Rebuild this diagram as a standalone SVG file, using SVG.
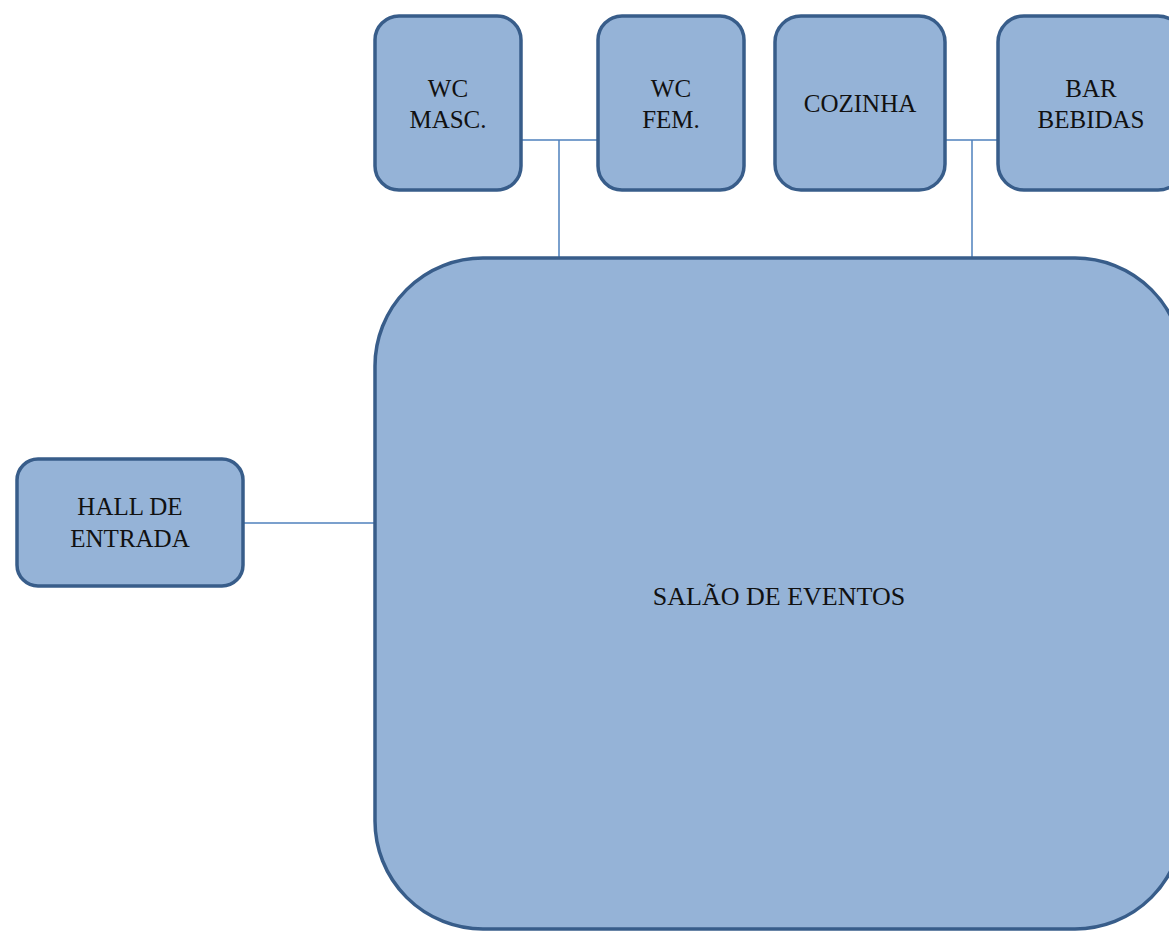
<svg xmlns="http://www.w3.org/2000/svg" width="1169" height="931" viewBox="0 0 1169 931">
<style>
.box{fill:#95B3D7;stroke:#385D8A;stroke-width:3.5}
.lbl{font-family:"Liberation Serif","Times New Roman",serif;font-size:25px;fill:#111;text-anchor:middle}
.con{fill:none;stroke:#4F81BD;stroke-width:1.5}
</style>
<rect width="1169" height="931" fill="#fff"/>
<g id="connectors">
<path class="con" d="M521,140 H598 M559,140 V258"/>
<path class="con" d="M945,140 H998 M972,140 V258"/>
<path class="con" d="M243,523 H375"/>
</g>
<g id="salao">
<rect class="box" x="375" y="258" width="808" height="671" rx="108"/>
<text class="lbl" x="779" y="605" style="font-size:26px">SALÃO DE EVENTOS</text>
</g>
<g id="wc-masc">
<rect class="box" x="375" y="16" width="146" height="174" rx="24"/>
<text class="lbl" x="448" y="97">WC</text>
<text class="lbl" x="448" y="128">MASC.</text>
</g>
<g id="wc-fem">
<rect class="box" x="598" y="16" width="146" height="174" rx="24"/>
<text class="lbl" x="671" y="97">WC</text>
<text class="lbl" x="671" y="128">FEM.</text>
</g>
<g id="cozinha">
<rect class="box" x="775" y="16" width="170" height="174" rx="26"/>
<text class="lbl" x="860" y="112">COZINHA</text>
</g>
<g id="bar">
<rect class="box" x="998" y="16" width="186" height="174" rx="26"/>
<text class="lbl" x="1091" y="97">BAR</text>
<text class="lbl" x="1091" y="128">BEBIDAS</text>
</g>
<g id="hall">
<rect class="box" x="17" y="459" width="226" height="127" rx="21"/>
<text class="lbl" x="130" y="515">HALL DE</text>
<text class="lbl" x="130" y="547">ENTRADA</text>
</g>
</svg>
